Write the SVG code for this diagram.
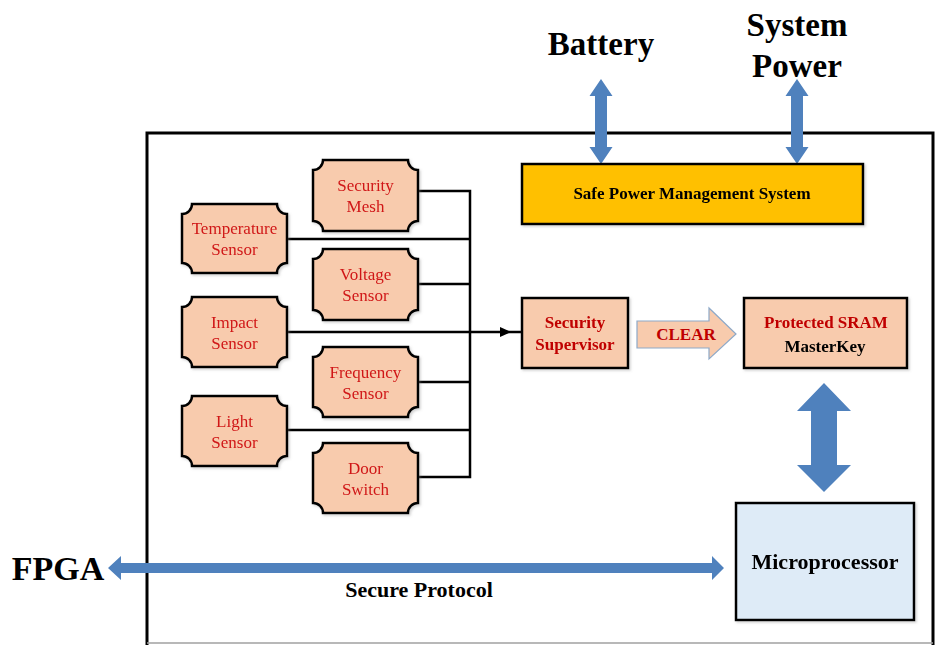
<svg xmlns="http://www.w3.org/2000/svg" width="938" height="645" viewBox="0 0 938 645">
  <defs>
    <style>
      .sensor { fill: #F8CBAD; stroke: #000; stroke-width: 2.5; }
      .box { stroke: #000; stroke-width: 2.5; }
      .peach { fill: #F8CBAD; }
      .wire { fill: none; stroke: #000; stroke-width: 2.5; }
      .blue { fill: #4F81BD; }
      .st { font-family: "Liberation Serif", "Times New Roman", serif; font-size: 17px; fill: #D01818; text-anchor: middle; }
      .bt { font-family: "Liberation Serif", "Times New Roman", serif; font-weight: bold; text-anchor: middle; }
      .red { fill: #C00000; }
      .blk { fill: #000; }
    </style>
    <filter id="shadow" x="-10%" y="-10%" width="130%" height="130%">
      <feDropShadow dx="1.5" dy="1.5" stdDeviation="1" flood-color="#808080" flood-opacity="0.35"/>
    </filter>
  </defs>

  <!-- enclosure -->
  <g id="enclosure">
    <path d="M147,645 V133 H933 V645" fill="none" stroke="#000" stroke-width="3"/>
    <line x1="147" y1="643" x2="933" y2="643" stroke="#A0A0A0" stroke-width="1.5"/>
  </g>

  <!-- connectors -->
  <g id="connectors">
    <!-- sensor bus -->
    <polyline class="wire" points="418,191 470,191 470,477 418,477"/>
    <line class="wire" x1="287" y1="239" x2="470" y2="239"/>
    <line class="wire" x1="418" y1="284" x2="470" y2="284"/>
    <line class="wire" x1="418" y1="382" x2="470" y2="382"/>
    <line class="wire" x1="287" y1="430" x2="470" y2="430"/>
    <line class="wire" x1="287" y1="332" x2="522" y2="332"/>
    <polygon points="500,327 511,332 500,337" fill="#000"/>

    <!-- battery link -->
    <polygon class="blue" points="601,79 612.5,96 607,96 607,147 612.5,147 601,164 589.5,147 595,147 595,96 589.5,96"/>
    <!-- system power link -->
    <polygon class="blue" points="797,79 808.5,96 803,96 803,147 808.5,147 797,164 785.5,147 791,147 791,96 785.5,96"/>
    <!-- SRAM to microprocessor -->
    <polygon class="blue" points="824,383 851,411 837,411 837,465 851,465 824,492 797,465 811,465 811,411 797,411"/>
    <!-- FPGA secure protocol -->
    <polygon class="blue" points="108,568 121,556 121,563 712,563 712,556 724,568 712,580 712,573 121,573 121,580"/>
    <!-- CLEAR arrow -->
    <polygon points="637,321 709,321 709,308 736,334 709,359 709,348 637,348" fill="#F8CBAD" stroke="#8EA9C8" stroke-width="1.2"/>
    <text class="bt red" x="686" y="340" font-size="17">CLEAR</text>
  </g>

  <!-- sensors (plaque shapes) -->
  <g id="temperature-sensor" filter="url(#shadow)">
    <path class="sensor" d="M192,204 H277 A10,10 0 0 0 287,214 V263 A10,10 0 0 0 277,273 H192 A10,10 0 0 0 182,263 V214 A10,10 0 0 0 192,204 Z"/>
    <text class="st" x="234.5" y="234">Temperature</text>
    <text class="st" x="234.5" y="255">Sensor</text>
  </g>
  <g id="impact-sensor" filter="url(#shadow)">
    <path class="sensor" d="M192,297 H277 A10,10 0 0 0 287,307 V357 A10,10 0 0 0 277,367 H192 A10,10 0 0 0 182,357 V307 A10,10 0 0 0 192,297 Z"/>
    <text class="st" x="234.5" y="328">Impact</text>
    <text class="st" x="234.5" y="349">Sensor</text>
  </g>
  <g id="light-sensor" filter="url(#shadow)">
    <path class="sensor" d="M192,396 H277 A10,10 0 0 0 287,406 V456 A10,10 0 0 0 277,466 H192 A10,10 0 0 0 182,456 V406 A10,10 0 0 0 192,396 Z"/>
    <text class="st" x="234.5" y="427">Light</text>
    <text class="st" x="234.5" y="448">Sensor</text>
  </g>
  <g id="security-mesh" filter="url(#shadow)">
    <path class="sensor" d="M323,160 H408 A10,10 0 0 0 418,170 V221 A10,10 0 0 0 408,231 H323 A10,10 0 0 0 313,221 V170 A10,10 0 0 0 323,160 Z"/>
    <text class="st" x="365.5" y="191">Security</text>
    <text class="st" x="365.5" y="212">Mesh</text>
  </g>
  <g id="voltage-sensor" filter="url(#shadow)">
    <path class="sensor" d="M323,249 H408 A10,10 0 0 0 418,259 V310 A10,10 0 0 0 408,320 H323 A10,10 0 0 0 313,310 V259 A10,10 0 0 0 323,249 Z"/>
    <text class="st" x="365.5" y="280">Voltage</text>
    <text class="st" x="365.5" y="301">Sensor</text>
  </g>
  <g id="frequency-sensor" filter="url(#shadow)">
    <path class="sensor" d="M323,347 H408 A10,10 0 0 0 418,357 V407 A10,10 0 0 0 408,417 H323 A10,10 0 0 0 313,407 V357 A10,10 0 0 0 323,347 Z"/>
    <text class="st" x="365.5" y="378">Frequency</text>
    <text class="st" x="365.5" y="399">Sensor</text>
  </g>
  <g id="door-switch" filter="url(#shadow)">
    <path class="sensor" d="M323,443 H408 A10,10 0 0 0 418,453 V503 A10,10 0 0 0 408,513 H323 A10,10 0 0 0 313,503 V453 A10,10 0 0 0 323,443 Z"/>
    <text class="st" x="365.5" y="474">Door</text>
    <text class="st" x="365.5" y="495">Switch</text>
  </g>

  <!-- blocks -->
  <g id="safe-power-management" filter="url(#shadow)">
    <rect class="box" x="522" y="164" width="341" height="60" fill="#FFC000" stroke-width="2"/>
    <text class="bt blk" x="692" y="199" font-size="17">Safe Power Management System</text>
  </g>
  <g id="security-supervisor" filter="url(#shadow)">
    <rect class="box peach" x="522" y="298" width="106" height="70"/>
    <text class="bt red" x="575" y="328" font-size="17">Security</text>
    <text class="bt red" x="575" y="350" font-size="17">Supervisor</text>
  </g>
  <g id="protected-sram" filter="url(#shadow)">
    <rect class="box peach" x="744" y="298" width="163" height="70"/>
    <text class="bt red" x="826" y="328" font-size="17">Protected SRAM</text>
    <text class="bt blk" x="825" y="352" font-size="17">MasterKey</text>
  </g>
  <g id="microprocessor" filter="url(#shadow)">
    <rect class="box" x="736" y="503" width="178" height="117" fill="#DEEBF7"/>
    <text class="bt blk" x="825" y="569" font-size="22">Microprocessor</text>
  </g>

  <!-- external labels -->
  <g id="battery">
    <text class="bt blk" x="601" y="55" font-size="33">Battery</text>
  </g>
  <g id="system-power">
    <text class="bt blk" x="797" y="36" font-size="33">System</text>
    <text class="bt blk" x="797" y="77" font-size="33">Power</text>
  </g>
  <g id="fpga">
    <text class="bt blk" x="58" y="580" font-size="34">FPGA</text>
  </g>
  <g id="secure-protocol-label">
    <text class="bt blk" x="419" y="597" font-size="22">Secure Protocol</text>
  </g>
</svg>
